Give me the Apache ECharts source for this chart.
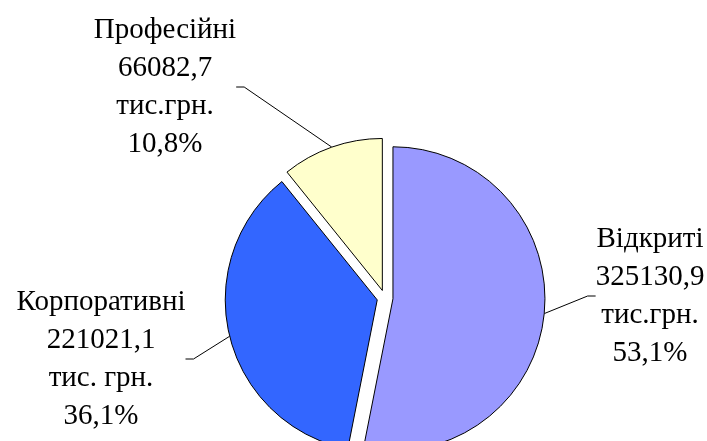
<!DOCTYPE html>
<html>
<head>
<meta charset="utf-8">
<script src="https://cdn.jsdelivr.net/npm/echarts@6/dist/echarts.min.js"></script>
<style>
  html, body { margin: 0; padding: 0; background: #fff; }
  #chart { width: 707px; height: 441px; }
</style>
</head>
<body>
<div id="chart"></div>
<script>
// Fund types and their assets (тис. грн.)
const categories = ["Відкриті", "Корпоративні", "Професійні"]
const values = [325130.9, 221021.1, 66082.7]
const units = ["тис.грн.", "тис. грн.", "тис.грн."]
const colors = ["#9999ff", "#3366ff", "#ffffcc"]

// layout
const CX = 385, CY = 298, R = 152, EXPLODE = 8
const labelPos = [[650, 296], [101, 359], [165, 87]]

const chart = echarts.init(document.getElementById("chart"), null, { renderer: "canvas" })

const fmt = (v) => v.toFixed(1).replace(".", ",")
const total = values.reduce((a, b) => a + b, 0)

// each slice is its own pie series, pushed out along its mid angle
let cum = 0
const series = categories.map((name, k) => {
  const mid = (cum + values[k] / 2) / total * Math.PI * 2
  cum += values[k]
  const center = [CX + EXPLODE * Math.sin(mid), CY - EXPLODE * Math.cos(mid)]
  return {
    type: "pie",
    center,
    radius: R,
    startAngle: 90,
    clockwise: true,
    avoidLabelOverlap: false,
    emphasis: { disabled: true },
    silent: true,
    label: {
      show: true,
      position: "outside",
      color: "#000",
      fontFamily: "Liberation Serif",
      fontSize: 29,
      lineHeight: 38,
      align: "center",
      formatter: (p) =>
        `${p.name}\n${fmt(p.value)}\n${units[p.dataIndex]}\n${fmt(p.percent)}%`
    },
    labelLine: {
      show: true,
      length: 10,
      length2: 8,
      lineStyle: { color: "#000", width: 1 }
    },
    labelLayout: (p) => p.dataIndex === k ? {
      x: labelPos[k][0],
      y: labelPos[k][1],
      align: "center",
      verticalAlign: "middle"
    } : {},
    data: categories.map((n, i) => i === k ? {
      name: n,
      value: values[i],
      itemStyle: { color: colors[i], borderColor: "#000", borderWidth: 1 }
    } : {
      name: n,
      value: values[i],
      itemStyle: { color: "rgba(0,0,0,0)", borderWidth: 0 },
      label: { show: false },
      labelLine: { show: false }
    })
  }
})

chart.setOption({ animation: false, backgroundColor: "#fff", series })
</script>
</body>
</html>
